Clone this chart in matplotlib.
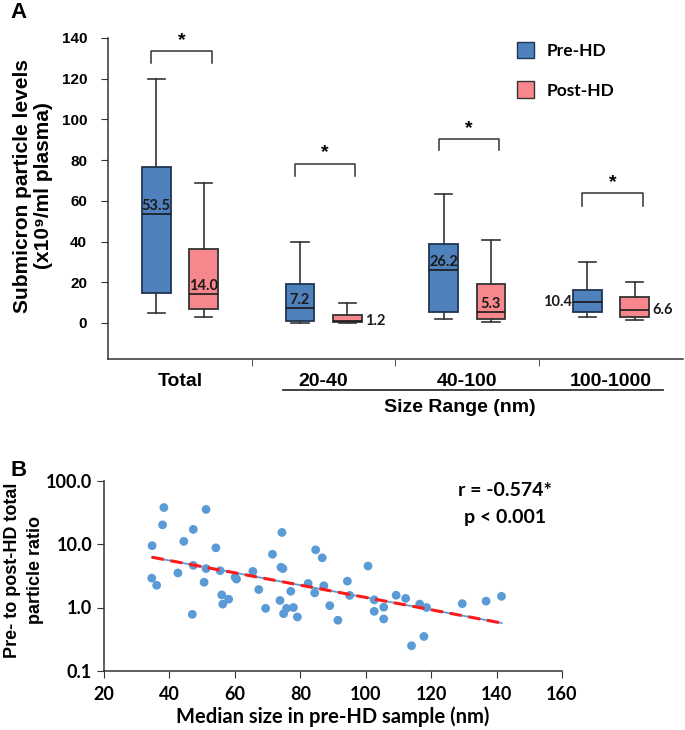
import numpy as np
import matplotlib.pyplot as plt
from matplotlib.patches import Patch
from matplotlib.ticker import FixedLocator, NullFormatter

ARIAL = ['Liberation Sans', 'DejaVu Sans']
CALIBRI = ['Lato', 'DejaVu Sans']
BLUE = '#4f81bd'
PINK = '#f7878c'
DOT = '#5b9bd5'

# panel A: box stats
groups = ['Total', '20-40', '40-100', '100-1000']
pre_med = [53.5, 7.2, 26.2, 10.4]
pre_q1 = [14.6, 1.1, 5.6, 5.4]
pre_q3 = [76.8, 19.2, 38.7, 16.1]
pre_lo = [5.1, 0.2, 1.8, 2.8]
pre_hi = [119.7, 39.8, 63.2, 30.1]
post_med = [14.0, 1.2, 5.3, 6.6]
post_q1 = [6.9, 0.5, 1.8, 3.1]
post_q3 = [36.2, 3.8, 19.3, 12.8]
post_lo = [2.8, 0.2, 0.5, 1.3]
post_hi = [68.9, 9.8, 40.6, 20.3]
bracket_top = [133.6, 78.3, 90.5, 64.0]
bracket_leg = [127.9, 72.4, 85.0, 57.5]

# panel B: scatter
size_nm = [38.3, 51.2, 37.9, 47.3, 44.4, 34.7, 54.2, 47.3, 51.2, 42.6, 55.5,
           34.6, 36.1, 50.6, 56.0, 58.1, 56.3, 47.0, 60.1, 60.5,
           65.5, 67.3, 69.4, 71.5, 74.4, 74.1, 74.7, 73.8, 74.9, 75.8, 77.1,
           77.9, 79.1, 82.4, 84.4, 84.7, 86.7, 87.2, 89.0, 91.5, 94.4, 95.1,
           100.7, 102.6, 102.6, 105.5, 105.5, 109.3, 112.2, 116.5, 118.6,
           114.0, 117.8, 129.5, 136.8, 141.5]
ratio = [37.5, 35.0, 20.0, 17.0, 11.0, 9.4, 8.7, 4.6, 4.1, 3.5, 3.8,
         2.9, 2.24, 2.5, 1.58, 1.35, 1.13, 0.78, 3.0, 2.8,
         3.7, 1.92, 0.97, 6.9, 15.2, 4.3, 4.1, 1.29, 0.8, 0.97, 1.8,
         1.0, 0.71, 2.39, 1.70, 8.1, 6.06, 2.2, 1.07, 0.63, 2.6, 1.55,
         4.5, 1.32, 0.87, 1.01, 0.66, 1.56, 1.39, 1.13, 1.0,
         0.25, 0.35, 1.15, 1.26, 1.5]
trend_x = [34.6, 141.5]
trend_y = [6.2, 0.57]

fig = plt.figure(figsize=(6.85, 7.3), dpi=100)

# ---------------- panel A ----------------
ax = fig.add_axes([108 / 685, 1 - 359 / 730, 575 / 685, 321 / 730])
x = np.arange(len(groups))
off = 0.165


def stats(med, q1, q3, lo, hi):
    return [dict(med=m, q1=a, q3=b, whislo=l, whishi=h, fliers=[])
            for m, a, b, l, h in zip(med, q1, q3, lo, hi)]


for st, pos, col, ec in [(stats(pre_med, pre_q1, pre_q3, pre_lo, pre_hi), x - off, BLUE, '#1f3553'),
                         (stats(post_med, post_q1, post_q3, post_lo, post_hi), x + off, PINK, '#333333')]:
    ax.bxp(st, positions=pos, widths=0.2, capwidths=0.12, patch_artist=True, showfliers=False,
           boxprops=dict(facecolor=col, edgecolor=ec, linewidth=1.3),
           medianprops=dict(color='#1a1a1a', linewidth=1.2),
           whiskerprops=dict(color='#333333', linewidth=1.2),
           capprops=dict(color='#333333', linewidth=1.2))

lab = dict(fontsize=10.5, fontweight='bold', family=CALIBRI, color='#1a1a1a')
for i in range(4):
    if i == 3:
        ax.text(x[i] - off - 0.11, pre_med[i], f'{pre_med[i]:.1f}', ha='right', va='center', **lab)
    else:
        ax.text(x[i] - off, pre_med[i] + 0.5, f'{pre_med[i]:.1f}', ha='center', va='bottom', **lab)
    if i in (1, 3):
        ax.text(x[i] + off + 0.12, post_med[i], f'{post_med[i]:.1f}', ha='left', va='center', **lab)
    else:
        ax.text(x[i] + off, post_med[i] + 0.5, f'{post_med[i]:.1f}', ha='center', va='bottom', **lab)
    xl, xr = x[i] - 0.2, x[i] + 0.22
    ax.plot([xl, xl, xr, xr], [bracket_leg[i], bracket_top[i], bracket_top[i], bracket_leg[i]],
            color='#333333', lw=1.1, clip_on=False)
    ax.text(x[i] + 0.01, bracket_top[i] + 1.0, '*', ha='center', va='bottom', fontsize=14,
            fontweight='bold', family=ARIAL, clip_on=False)

ax.set_xlim(-0.5, 3.5)
ax.set_ylim(-17.7, 140)
ax.set_yticks(range(0, 141, 20))
ax.set_xticks(x)
ax.set_xticklabels(groups)
ax.xaxis.set_minor_locator(FixedLocator([0.5, 1.5, 2.5]))
ax.xaxis.set_minor_formatter(NullFormatter())
ax.tick_params(axis='x', which='major', length=0, pad=10, labelsize=14)
ax.tick_params(axis='x', which='minor', length=5, direction='out', color='#333333')
ax.tick_params(axis='y', length=5, pad=10, labelsize=11, color='#333333')
for t in ax.get_xticklabels() + ax.get_yticklabels():
    t.set_fontweight('bold')
    t.set_family(ARIAL)
for s in ['top', 'right']:
    ax.spines[s].set_visible(False)
for s in ['left', 'bottom']:
    ax.spines[s].set_color('#333333')
    ax.spines[s].set_linewidth(1.1)

trans = ax.get_xaxis_transform()
ax.plot([0.717, 3.36], [-0.097, -0.097], color='#333333', lw=1.3, transform=trans, clip_on=False)
ax.text(1.95, -0.15, 'Size Range (nm)', transform=trans, ha='center', va='center',
        fontsize=14, fontweight='bold', family=ARIAL)

fig.text(33 / 685, 1 - 186 / 730, 'Submicron particle levels\n(x10⁹/ml plasma)', rotation=90,
         ha='center', va='center', fontsize=15, fontweight='bold', family=ARIAL, linespacing=1.1)

ax.legend(handles=[Patch(facecolor=BLUE, edgecolor='#1f3553', label='Pre-HD'),
                   Patch(facecolor=PINK, edgecolor='#333333', label='Post-HD')],
          loc='upper left', bbox_to_anchor=(508 / 685, 1 - 33 / 730), bbox_transform=fig.transFigure,
          frameon=False, handlelength=1.0, handleheight=1.1, labelspacing=1.3, handletextpad=0.7,
          borderpad=0, prop=dict(family=CALIBRI, weight='bold', size=12.5))

fig.text(10 / 685, 1 - 12 / 730, 'A', fontsize=16, fontweight='bold', family=ARIAL, va='center')
fig.text(10 / 685, 1 - 470 / 730, 'B', fontsize=16, fontweight='bold', family=ARIAL, va='center')

# ---------------- panel B ----------------
bx = fig.add_axes([104 / 685, 1 - 671 / 730, 458 / 685, 190.5 / 730])
bx.scatter(size_nm, ratio, s=40, color=DOT, edgecolors='none', zorder=3)
bx.plot(trend_x, trend_y, color=DOT, lw=1.3, zorder=4)
bx.plot(trend_x, trend_y, color='#ff1a1a', lw=2.2, dashes=(4, 2.2), zorder=5)
bx.set_yscale('log')
bx.set_ylim(0.1, 100)
bx.set_xlim(20, 160)
bx.set_xticks(range(20, 161, 20))
bx.set_yticks([0.1, 1, 10, 100])
bx.set_yticklabels(['0.1', '1.0', '10.0', '100.0'])
bx.yaxis.set_minor_locator(FixedLocator([]))
bx.tick_params(axis='both', length=5, labelsize=13, color='#333333')
bx.tick_params(axis='x', pad=6)
for t in bx.get_xticklabels() + bx.get_yticklabels():
    t.set_fontweight('bold')
    t.set_family(CALIBRI)
for s in ['top', 'right']:
    bx.spines[s].set_visible(False)
for s in ['left', 'bottom']:
    bx.spines[s].set_color('#333333')
    bx.spines[s].set_linewidth(1.1)

fig.text(333 / 685, 1 - 717 / 730, 'Median size in pre-HD sample (nm)', ha='center', va='center',
         fontsize=14.5, fontweight='bold', family=CALIBRI)
fig.text(24 / 685, 1 - 570 / 730, 'Pre- to post-HD total\nparticle ratio', rotation=90,
         ha='center', va='center', fontsize=13, fontweight='bold', family=ARIAL, linespacing=1.5)
fig.text(505 / 685, 1 - 490 / 730, 'r = -0.574*', ha='center', va='center',
         fontsize=14, fontweight='bold', family=CALIBRI)
fig.text(505 / 685, 1 - 517 / 730, 'p < 0.001', ha='center', va='center',
         fontsize=14, fontweight='bold', family=CALIBRI)

fig.savefig('out.png', dpi=100)
